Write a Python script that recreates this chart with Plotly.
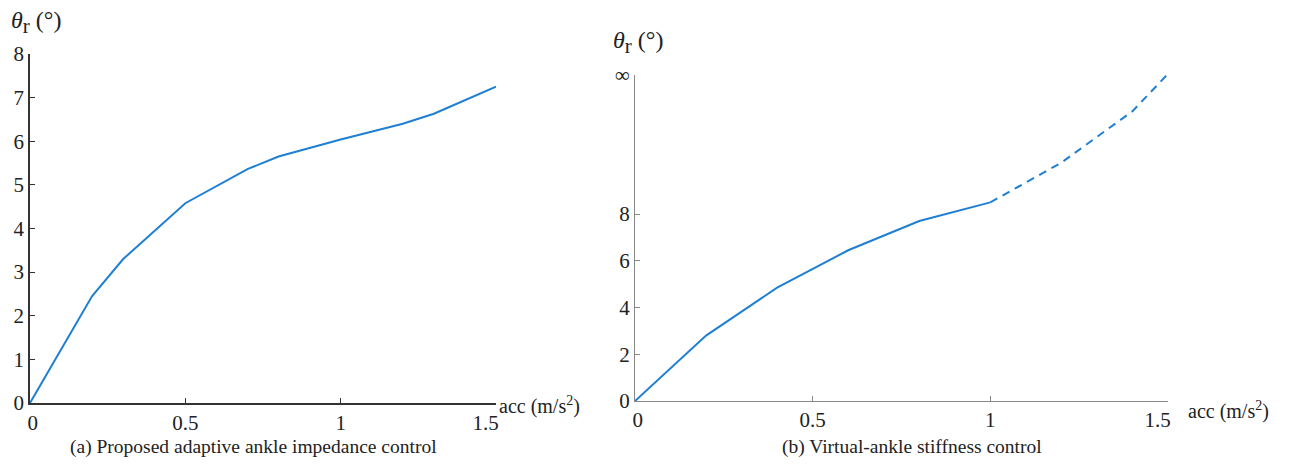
import plotly.graph_objects as go

# The page body has an 8 px margin, so the figure is drawn 16 px smaller
# and every reference pixel position is shifted by 8 px.
OFF = 8
W, H = 1296 - 2 * OFF, 468 - 2 * OFF

# Panel (a): proposed adaptive ankle impedance control
acc_a = [0, 0.2, 0.3, 0.5, 0.7, 0.8, 1.0, 1.2, 1.3, 1.5]
theta_a = [0, 2.45, 3.3, 4.58, 5.36, 5.65, 6.04, 6.4, 6.63, 7.25]

# Panel (b): virtual-ankle stiffness control (solid part, then dashed extrapolation)
acc_b_solid = [0, 0.2, 0.4, 0.6, 0.8, 1.0]
theta_b_solid = [0, 2.8, 4.85, 6.45, 7.7, 8.5]
acc_b_dash = [1.0, 1.2, 1.4, 1.5]
theta_b_dash = [8.5, 10.2, 12.4, 14.0]

yticks_a = [0, 1, 2, 3, 4, 5, 6, 7, 8]
yticks_b = [0, 2, 4, 6, 8, 13.95]
yticktext_b = ["0", "2", "4", "6", "8", "∞"]
xticks = [0, 0.5, 1, 1.5]
xticktext = ["\u00a00", "0.5", "1", "1.5\u00a0\u00a0\u00a0\u00a0"]

BLUE = "#1f7fd2"
FONT = "Liberation Serif, Times New Roman, serif"


def px(x):
    return (x - OFF) / W


def py(y):
    return 1 - (y - OFF) / H


fig = go.Figure()
fig.add_trace(go.Scatter(x=acc_a, y=theta_a, mode="lines", line=dict(color=BLUE, width=2),
                         xaxis="x", yaxis="y", showlegend=False))
fig.add_trace(go.Scatter(x=acc_b_solid, y=theta_b_solid, mode="lines", line=dict(color=BLUE, width=2),
                         xaxis="x2", yaxis="y2", showlegend=False))
fig.add_trace(go.Scatter(x=acc_b_dash, y=theta_b_dash, mode="lines",
                         line=dict(color=BLUE, width=2, dash="8px,6px"),
                         xaxis="x2", yaxis="y2", showlegend=False))

axis_common = dict(showgrid=False, zeroline=False, ticks="inside", ticklen=5,
                   showline=True, automargin=False,
                   tickfont=dict(family=FONT, size=21, color="#222"))

fig.update_layout(
    template="none",
    width=W, height=H,
    margin=dict(l=0, r=0, t=0, b=0, pad=0),
    plot_bgcolor="white", paper_bgcolor="white",
    xaxis=dict(domain=[px(30), px(496)], range=[0, 1.5], anchor="y",
               tickvals=xticks, ticktext=xticktext, linecolor="#333", tickcolor="#333",
               linewidth=1.5, **axis_common),
    yaxis=dict(domain=[py(403), py(54)], range=[0, 8], anchor="x",
               tickvals=yticks_a, linecolor="#333", tickcolor="#333", linewidth=1.5,
               **axis_common),
    xaxis2=dict(domain=[px(635), px(1168)], range=[0, 1.5], anchor="y2",
                tickvals=xticks, ticktext=xticktext, linecolor="#888", tickcolor="#888",
                linewidth=1.2, **axis_common),
    yaxis2=dict(domain=[py(401), py(75)], range=[0, 13.95], anchor="x2",
                tickvals=yticks_b, ticktext=yticktext_b, linecolor="#888", tickcolor="#888",
                linewidth=1.2, **axis_common),
)

ann_font = dict(family=FONT, size=20, color="#222")
title_font = dict(family=FONT, size=24, color="#222")
cap_font = dict(family=FONT, size=19.5, color="#222")
ytitle = "<i>θ</i><sub><span style='font-size:21px'>r</span></sub> (°)"
annotations = [
    dict(x=px(9), y=py(22), text=ytitle, xanchor="left", yanchor="middle", font=title_font),
    dict(x=px(611), y=py(42), text=ytitle, xanchor="left", yanchor="middle", font=title_font),
    dict(x=px(497), y=py(405), text="acc (m/s<sup>2</sup>)", xanchor="left", yanchor="middle", font=ann_font),
    dict(x=px(1186), y=py(410), text="acc (m/s<sup>2</sup>)", xanchor="left", yanchor="middle", font=ann_font),
    dict(x=px(253), y=py(447), text="(a) Proposed adaptive ankle impedance control",
         xanchor="center", yanchor="middle", font=cap_font),
    dict(x=px(912), y=py(447), text="(b) Virtual-ankle stiffness control",
         xanchor="center", yanchor="middle", font=cap_font),
]
for a in annotations:
    fig.add_annotation(xref="paper", yref="paper", showarrow=False, **a)

fig.write_html("out.html")
